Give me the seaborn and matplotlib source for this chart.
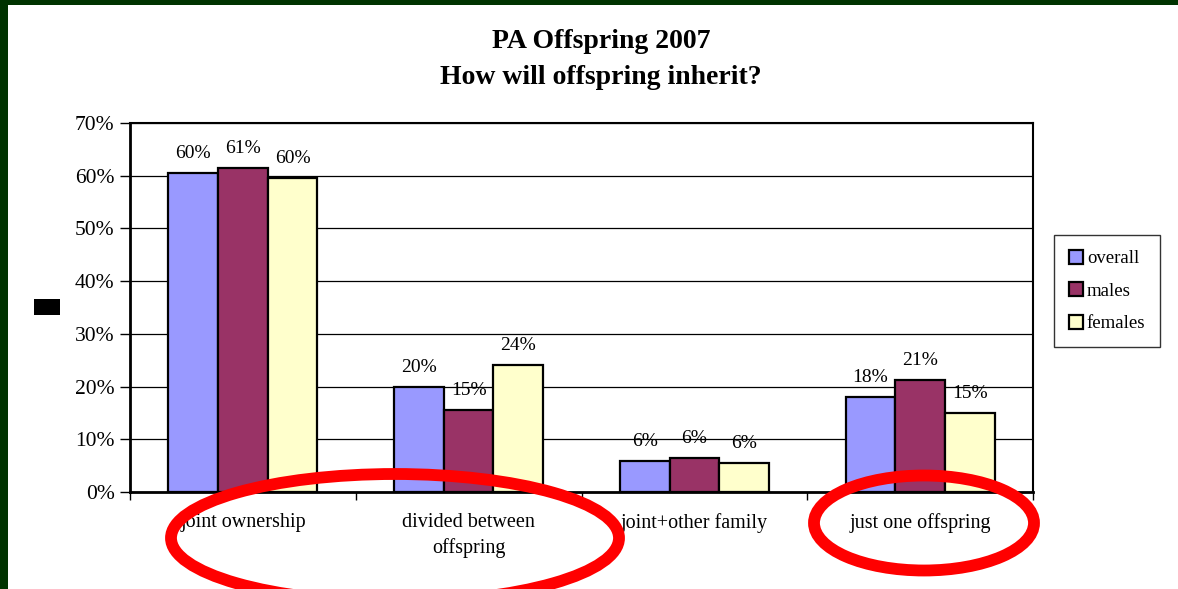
import matplotlib
matplotlib.use("Agg")
import matplotlib.pyplot as plt
import seaborn as sns
import pandas as pd
from matplotlib.patches import Ellipse, Rectangle
from matplotlib.ticker import FixedLocator, FuncFormatter

categories = ["joint ownership", "divided between\noffspring", "joint+other family", "just one offspring"]
series = ["overall", "males", "females"]
overall = [60.5, 19.9, 5.9, 18.0]
males = [61.4, 15.5, 6.4, 21.2]
females = [59.6, 24.0, 5.5, 15.0]
labels_overall = ["60%", "20%", "6%", "18%"]
labels_males = ["61%", "15%", "6%", "21%"]
labels_females = ["60%", "24%", "6%", "15%"]
colors = ["#9999FF", "#993366", "#FFFFCC"]

rows = []
for s, vals in zip(series, [overall, males, females]):
    for c, v in zip(categories, vals):
        rows.append({"category": c, "series": s, "value": v})
df = pd.DataFrame(rows)

sns.set_theme(style="white")
plt.rcParams["font.family"] = ["Liberation Serif", "DejaVu Serif"]
plt.rcParams["text.color"] = "black"
plt.rcParams["xtick.color"] = "black"
plt.rcParams["ytick.color"] = "black"
plt.rcParams["axes.labelcolor"] = "black"

W, H = 1178, 589
fig = plt.figure(figsize=(W / 100, H / 100), dpi=100)
fig.patch.set_facecolor("#003300")
fig.add_artist(Rectangle((8 / W, 0), 1, 1 - 5 / H, transform=fig.transFigure,
                         facecolor="white", edgecolor="none", zorder=-10))

ax = fig.add_axes([130 / W, 1 - 492 / H, (1033 - 130) / W, (492 - 123) / H])
ax.set_facecolor("white")
sns.barplot(data=df, x="category", y="value", hue="series", order=categories,
            hue_order=series, palette=colors, saturation=1, width=0.66, gap=0,
            edgecolor="black", linewidth=1.6, ax=ax, legend=True, zorder=3)

for cont, labs in zip(ax.containers, [labels_overall, labels_males, labels_females]):
    ax.bar_label(cont, labels=labs, padding=8, fontsize=14, color="black")

ax.set_ylim(0, 70)
ax.set_xlim(-0.5, 3.5)
ax.yaxis.set_major_locator(FixedLocator(range(0, 71, 10)))
ax.yaxis.set_major_formatter(FuncFormatter(lambda v, p: f"{int(v)}%"))
ax.grid(axis="y", color="black", linewidth=0.9, zorder=0)
ax.set_axisbelow(True)
for sp in ax.spines.values():
    sp.set_visible(True)
    sp.set_color("black")
ax.spines["left"].set_linewidth(2)
ax.spines["bottom"].set_linewidth(2)
ax.spines["top"].set_linewidth(1.5)
ax.spines["right"].set_linewidth(1.5)
ax.tick_params(axis="y", direction="out", length=7, width=1, color="black",
               labelsize=15.5, left=True, pad=4, labelcolor="black")
ax.set_xticks(range(4))
ax.set_xticklabels(categories, fontsize=14.5, linespacing=1.4, color="black")
ax.tick_params(axis="x", length=0, pad=15)
ax.set_xticks([-0.5, 0.5, 1.5, 2.5, 3.5], minor=True)
ax.tick_params(axis="x", which="minor", direction="out", length=6, width=1,
               color="black", bottom=True)
ax.set_xlabel("")
ax.set_ylabel("")

leg = ax.legend(loc="upper left", bbox_to_anchor=(1054 / W, 1 - 235 / H),
                bbox_transform=fig.transFigure, frameon=True, fancybox=False,
                edgecolor="black", fontsize=13.5, handlelength=0.75,
                handleheight=0.75, handletextpad=0.2, labelspacing=0.8,
                borderpad=0.8, borderaxespad=0)
leg.get_frame().set_linewidth(1)
for h in leg.legend_handles:
    h.set_edgecolor("black")
    h.set_linewidth(1.6)
for t in leg.get_texts():
    t.set_color("black")

fig.text(601 / W, 1 - 41 / H, "PA Offspring 2007", ha="center", va="center",
         fontsize=20, fontweight="bold", color="black")
fig.text(601 / W, 1 - 78 / H, "How will offspring inherit?", ha="center",
         va="center", fontsize=20, fontweight="bold", color="black")

fig.add_artist(Rectangle((34 / W, 1 - 315 / H), 26 / W, 16 / H,
                         transform=fig.transFigure, facecolor="black",
                         edgecolor="none"))

fig.add_artist(Ellipse((395 / W, 1 - 538 / H), 448 / W, 128 / H,
                       transform=fig.transFigure, fill=False,
                       edgecolor="#FF0000", linewidth=8.5, zorder=20))
fig.add_artist(Ellipse((924 / W, 1 - 523 / H), 220 / W, 95 / H,
                       transform=fig.transFigure, fill=False,
                       edgecolor="#FF0000", linewidth=8.5, zorder=20))

fig.savefig("out.png", dpi=100, facecolor=fig.get_facecolor())
